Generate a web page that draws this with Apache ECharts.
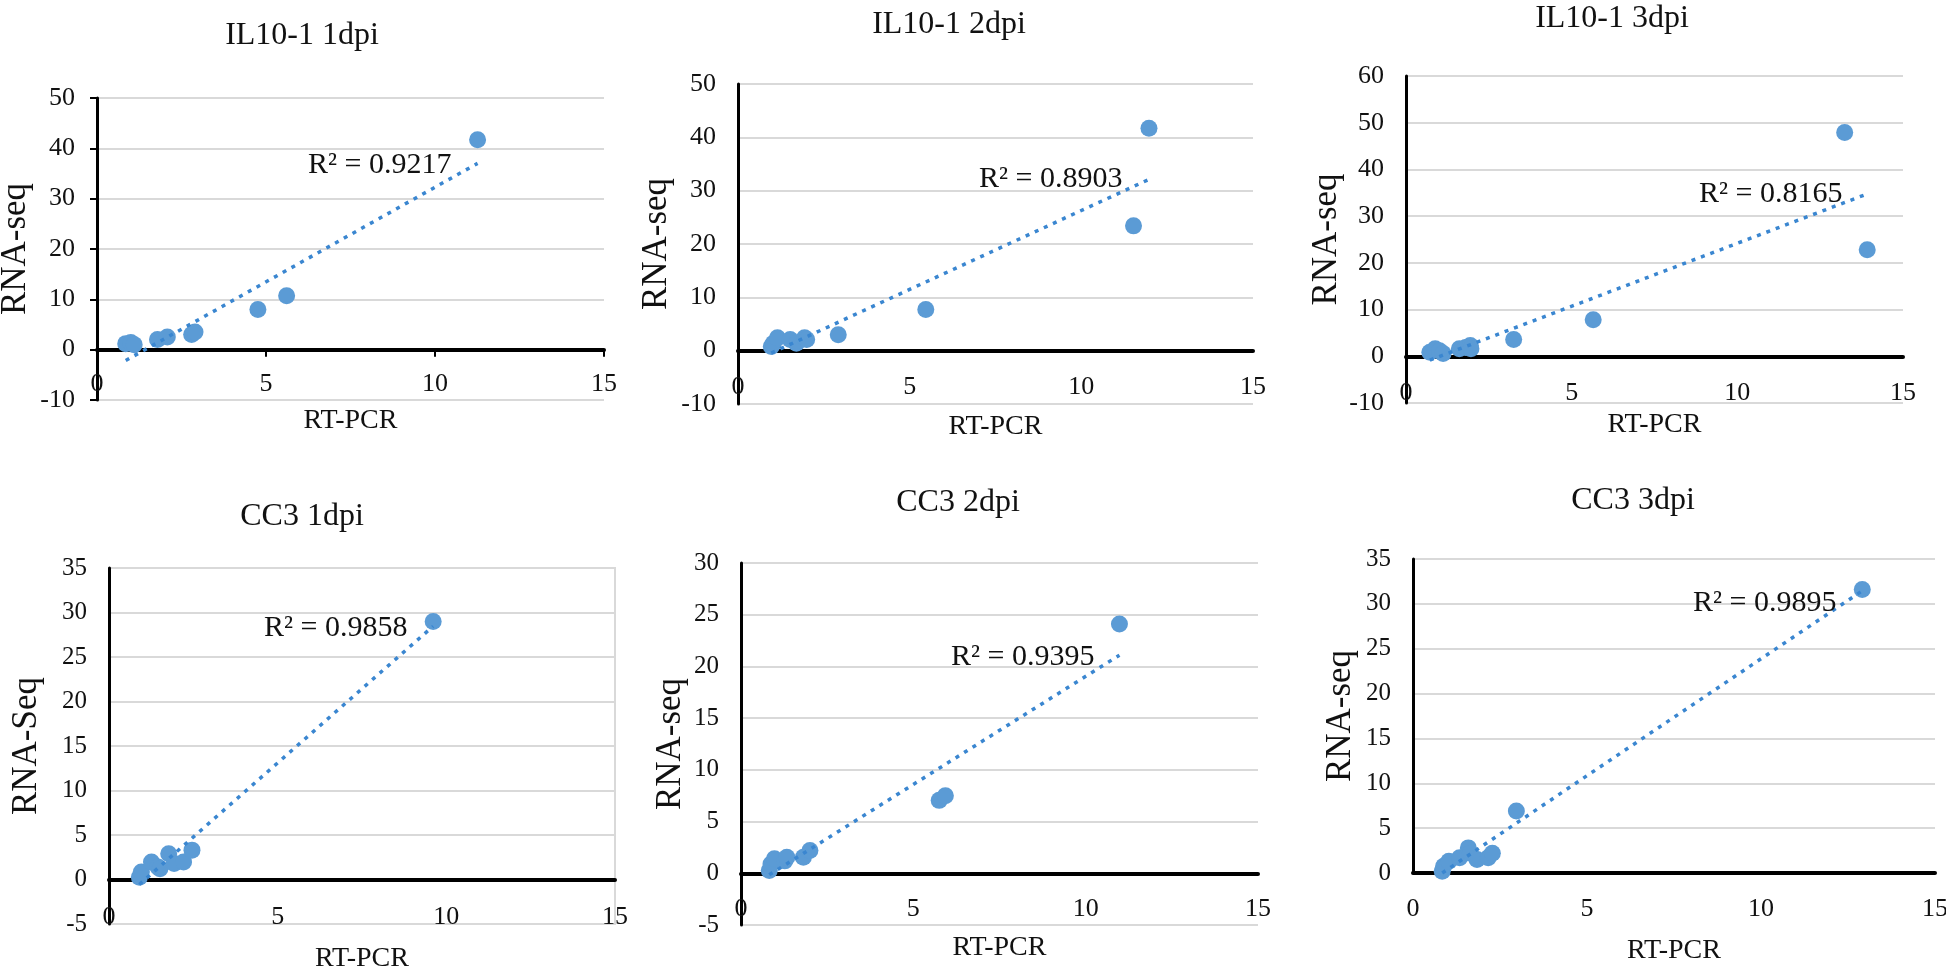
<!DOCTYPE html>
<html>
<head>
<meta charset="utf-8">
<script src="https://cdn.jsdelivr.net/npm/echarts@6/dist/echarts.min.js"></script>
<style>
html,body{margin:0;padding:0;background:#ffffff;}
#chart{width:1946px;height:970px;}
</style>
</head>
<body>
<div id="chart"></div>
<script>
// ---------------- DATA ----------------
const panelTitles = ['IL10-1 1dpi', 'IL10-1 2dpi', 'IL10-1 3dpi', 'CC3 1dpi', 'CC3 2dpi', 'CC3 3dpi'];
const r2Labels = ['R\u00B2 = 0.9217', 'R\u00B2 = 0.8903', 'R\u00B2 = 0.8165', 'R\u00B2 = 0.9858', 'R\u00B2 = 0.9395', 'R\u00B2 = 0.9895'];
const xAxisName = 'RT-PCR';
const yAxisNames = ['RNA-seq', 'RNA-seq', 'RNA-seq', 'RNA-Seq', 'RNA-seq', 'RNA-seq'];
const xTickMin = 0, xTickMax = 15, xTickStep = 5;
const yTickMin = [-10, -10, -10, -5, -5, 0];
const yTickMax = [50, 50, 60, 35, 30, 35];
const yTickStep = [10, 10, 10, 5, 5, 5];

const il10_1dpi_rtpcr = [0.85, 1.0, 1.1, 1.79, 2.08, 2.8, 2.9, 4.76, 5.61, 11.26];
const il10_1dpi_rnaseq = [1.2, 1.4, 1.0, 2.0, 2.5, 3.0, 3.5, 8.0, 10.7, 41.7];

const il10_2dpi_rtpcr = [0.97, 1.03, 1.15, 1.52, 1.70, 1.94, 2.0, 2.92, 5.47, 11.52, 11.97];
const il10_2dpi_rnaseq = [0.8, 1.4, 2.4, 2.1, 1.4, 2.4, 2.1, 3.0, 7.7, 23.4, 41.7];

const il10_3dpi_rtpcr = [0.72, 0.88, 1.01, 1.12, 1.61, 1.80, 1.94, 1.96, 3.25, 5.65, 13.24, 13.92];
const il10_3dpi_rnaseq = [0.86, 1.6, 1.2, 0.6, 1.6, 1.9, 2.3, 1.6, 3.6, 7.8, 47.9, 22.8];

const cc3_1dpi_rtpcr = [0.90, 0.96, 1.26, 1.45, 1.51, 1.77, 1.93, 2.21, 2.46, 9.61];
const cc3_1dpi_rnaseq = [0.26, 0.83, 1.96, 1.4, 1.2, 2.9, 1.8, 1.96, 3.3, 29.0];

const cc3_2dpi_rtpcr = [0.82, 0.87, 0.97, 1.27, 1.33, 1.81, 2.0, 5.75, 5.93, 10.98];
const cc3_2dpi_rnaseq = [0.26, 0.9, 1.4, 1.2, 1.55, 1.55, 2.2, 7.05, 7.5, 24.1];

const cc3_3dpi_rtpcr = [0.84, 0.88, 1.03, 1.34, 1.59, 1.65, 1.84, 2.16, 2.28, 2.97, 12.91];
const cc3_3dpi_rnaseq = [0.2, 0.74, 1.3, 1.7, 2.8, 2.2, 1.5, 1.7, 2.2, 6.9, 31.6];

const panelX = [il10_1dpi_rtpcr, il10_2dpi_rtpcr, il10_3dpi_rtpcr, cc3_1dpi_rtpcr, cc3_2dpi_rtpcr, cc3_3dpi_rtpcr];
const panelY = [il10_1dpi_rnaseq, il10_2dpi_rnaseq, il10_3dpi_rnaseq, cc3_1dpi_rnaseq, cc3_2dpi_rnaseq, cc3_3dpi_rnaseq];

// ---------------- LAYOUT ----------------
const gridBoxes = [
  {left: 97, top: 98, width: 507, height: 302},
  {left: 738, top: 84, width: 515, height: 320},
  {left: 1406, top: 76, width: 497, height: 327},
  {left: 109, top: 568, width: 506, height: 356},
  {left: 741, top: 563, width: 517, height: 362},
  {left: 1413, top: 559, width: 522, height: 314}
];
const yNameGaps = [64, 64, 62, 65, 53, 55];
const xNameGaps = [57, 62, 54, 65, 60, 64];
const xLabelMargins = [22, 24, 24, 25, 23, 23];
const titlePos = [[302, 36], [949, 25], [1612, 19], [302, 517], [958, 503], [1633, 501]];
const r2Pos = [[308, 165], [979, 179], [1699, 194], [264, 628], [951, 657], [1693, 603]];
const showTicks = [true, false, false, false, false, false];
const showBorder = [false, false, false, true, false, false];

const FONT = '"Liberation Serif", "Times New Roman", serif';
const TEXT = '#111111';
const POINT = '#5B9BD5';
const TREND = '#3A86D0';

function linearFit(xs, ys) {
  const n = xs.length;
  let sx = 0, sy = 0;
  for (let i = 0; i < n; i++) { sx += xs[i]; sy += ys[i]; }
  const mx = sx / n, my = sy / n;
  let sxy = 0, sxx = 0;
  for (let i = 0; i < n; i++) { sxy += (xs[i] - mx) * (ys[i] - my); sxx += (xs[i] - mx) * (xs[i] - mx); }
  const b = sxy / sxx, a = my - b * mx;
  const x0 = Math.min.apply(null, xs), x1 = Math.max.apply(null, xs);
  return [[x0, a + b * x0], [x1, a + b * x1]];
}

const grids = [], xAxes = [], yAxes = [], series = [], graphics = [];
for (let i = 0; i < 6; i++) {
  const g = gridBoxes[i];
  // distance (px) from the grid bottom up to the y = 0 line, so the whole x axis sits on zero
  const zeroLift = g.height * (0 - yTickMin[i]) / (yTickMax[i] - yTickMin[i]);
  grids.push({
    left: g.left, top: g.top, width: g.width, height: g.height,
    outerBoundsMode: 'none', containLabel: false,
    show: showBorder[i], borderColor: '#D9D9D9', borderWidth: 2, backgroundColor: 'transparent'
  });
  xAxes.push({
    type: 'value', gridIndex: i, min: xTickMin, max: xTickMax, interval: xTickStep,
    offset: -zeroLift,
    name: xAxisName, nameLocation: 'middle', nameGap: xNameGaps[i], nameMoveOverlap: false,
    nameTextStyle: {fontFamily: FONT, fontSize: 28, color: TEXT},
    axisLine: {show: true, onZero: false, lineStyle: {color: '#000', width: 4}},
    axisTick: {show: showTicks[i], length: 7, lineStyle: {color: '#000', width: 2}},
    axisLabel: {fontFamily: FONT, fontSize: 26, color: TEXT, margin: xLabelMargins[i]},
    splitLine: {show: false}
  });
  yAxes.push({
    type: 'value', gridIndex: i, min: yTickMin[i], max: yTickMax[i], interval: yTickStep[i],
    name: yAxisNames[i], nameLocation: 'middle', nameGap: yNameGaps[i], nameRotate: 90, nameMoveOverlap: false,
    nameTextStyle: {fontFamily: FONT, fontSize: 35, color: TEXT},
    axisLine: {show: true, onZero: false, lineStyle: {color: '#000', width: 3}},
    axisTick: {show: showTicks[i], length: 7, lineStyle: {color: '#000', width: 2}},
    axisLabel: {fontFamily: FONT, fontSize: i < 3 ? 26 : 25, color: TEXT, margin: 22},
    splitLine: {show: true, lineStyle: {color: '#D9D9D9', width: 2}}
  });
  const pts = panelX[i].map((x, k) => [x, panelY[i][k]]);
  series.push({
    type: 'scatter', xAxisIndex: i, yAxisIndex: i, data: pts,
    symbol: 'circle', symbolSize: 17, itemStyle: {color: POINT, opacity: 1},
    z: 3, silent: true
  });
  series.push({
    type: 'line', xAxisIndex: i, yAxisIndex: i, data: linearFit(panelX[i], panelY[i]),
    showSymbol: false, symbol: 'none',
    lineStyle: {color: TREND, width: 3.5, type: [4, 6]},
    z: 4, silent: true
  });
  graphics.push({
    type: 'text', x: titlePos[i][0], y: titlePos[i][1],
    style: {text: panelTitles[i], fontFamily: FONT, fontSize: 32, fill: TEXT, textAlign: 'center', textVerticalAlign: 'middle', align: 'center', verticalAlign: 'middle'}
  });
  graphics.push({
    type: 'text', x: r2Pos[i][0], y: r2Pos[i][1], z: 10,
    style: {text: r2Labels[i], fontFamily: FONT, fontSize: 30, fill: TEXT, textAlign: 'left', textVerticalAlign: 'middle', align: 'left', verticalAlign: 'middle'}
  });
}

const chart = echarts.init(document.getElementById('chart'), null, {renderer: 'canvas'});
chart.setOption({
  animation: false,
  backgroundColor: '#ffffff',
  grid: grids,
  xAxis: xAxes,
  yAxis: yAxes,
  series: series,
  graphic: graphics
});
</script>
</body>
</html>
